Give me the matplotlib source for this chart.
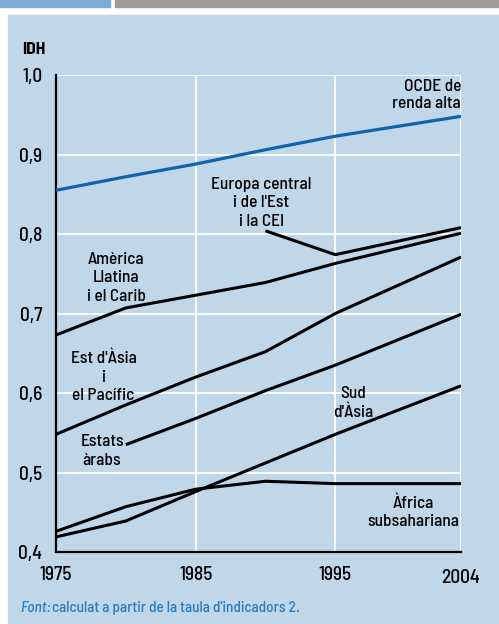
import matplotlib; matplotlib.use("Agg")
import matplotlib.pyplot as plt
from matplotlib.patches import Rectangle

# IDH per regio, 1975-2004
years = [1975, 1980, 1985, 1990, 1995, 2004]
ocde = [0.855, 0.872, 0.888, 0.906, 0.923, 0.948]
europa_est = [None, None, None, 0.804, 0.774, 0.808]
america_llatina = [0.673, 0.707, 0.723, 0.739, 0.763, 0.801]
est_asia = [0.548, 0.585, 0.620, 0.652, 0.700, 0.771]
estats_arabs = [None, 0.535, 0.568, 0.603, 0.635, 0.699]
sud_asia = [0.419, 0.439, 0.476, 0.512, 0.548, 0.609]
africa = [0.426, 0.457, 0.479, 0.489, 0.486, 0.486]

yticks = [0.4, 0.5, 0.6, 0.7, 0.8, 0.9, 1.0]
xticks = [1975, 1985, 1995, 2004]

PANEL = "#c0d7ea"
BLUE = "#0f62ab"
FONT = ["Barlow Semi Condensed", "DejaVu Sans"]
plt.rcParams["font.family"] = FONT
plt.rcParams["font.weight"] = 500

W, H = 499, 624
fig = plt.figure(figsize=(W / 100, H / 100), dpi=100)
fig.patch.set_facecolor("white")

# header strips and background panel (pixel coords)
def px_rect(x0, y0, x1, y1, color):
    fig.patches.append(Rectangle((x0 / W, 1 - y1 / H), (x1 - x0) / W, (y1 - y0) / H,
                                 transform=fig.transFigure, color=color, zorder=-5))
px_rect(0, 0, 110, 7, "#7badd6")
px_rect(115, 0, 499, 7, "#9c9c9c")
px_rect(8, 15, 499, 624, PANEL)

ax = fig.add_axes([56 / W, (H - 552) / H, 405 / W, 477 / H])
ax.set_facecolor(PANEL)
ax.set_xlim(1975, 2004)
ax.set_ylim(0.4, 1.0)

for v in yticks[1:]:
    ax.axhline(v, color="white", lw=1.3, zorder=1)
for x in xticks[1:]:
    ax.axvline(x, color="white", lw=1.3, zorder=1)

def series(vals):
    pts = [(x, v) for x, v in zip(years, vals) if v is not None]
    return [p[0] for p in pts], [p[1] for p in pts]

ax.plot(*series(ocde), color=BLUE, lw=2.3, zorder=3, solid_capstyle="butt")
for s in (europa_est, america_llatina, est_asia, estats_arabs, sud_asia, africa):
    ax.plot(*series(s), color="black", lw=2.2, zorder=3, solid_capstyle="butt")

for sp in ("top", "right"):
    ax.spines[sp].set_visible(False)
for sp in ("left", "bottom"):
    ax.spines[sp].set_linewidth(1.6)
ax.set_xticks(xticks)
ax.set_xticklabels([str(x) for x in xticks])
ax.set_yticks(yticks)
ax.set_yticklabels([f"{v:.1f}".replace(".", ",") for v in yticks])
ax.tick_params(length=0, labelsize=14, colors="black", pad=10)
ax.tick_params(axis="x", pad=10)
ax.get_xticklabels()[-1].set_y(-0.006)

lab = dict(fontsize=12.5, ha="center", va="center", linespacing=1.3, zorder=4)
ax.text(2004, 0.975, "OCDE de\nrenda alta", **{**lab, "ha": "right", "linespacing": 1.15})
ax.text(1989.7, 0.839, "Europa central\ni de l'Est\ni la CEI", **lab)
ax.text(1979.3, 0.745, "Amèrica\nLlatina\ni el Carib", **lab)
ax.text(1978.4, 0.620, "Est d'Àsia\ni\nel Pacífic", **lab)
ax.text(1978.3, 0.527, "Estats\nàrabs", **lab)
ax.text(1996.3, 0.587, "Sud\nd'Àsia", **lab)
ax.text(2000.6, 0.450, "Àfrica\nsubsahariana", **lab)

fig.text(22 / W, 1 - 49 / H, "IDH", fontsize=12.5, fontweight="bold", va="center")
fig.text(20 / W, 1 - 608 / H, "Font:", fontsize=11, style="italic", color="#2a7bbd", va="center")
fig.text(52 / W, 1 - 608 / H, "calculat a partir de la taula d'indicadors 2.", fontsize=11,
         color="#2a7bbd", va="center")

fig.savefig("out.png", dpi=100)
